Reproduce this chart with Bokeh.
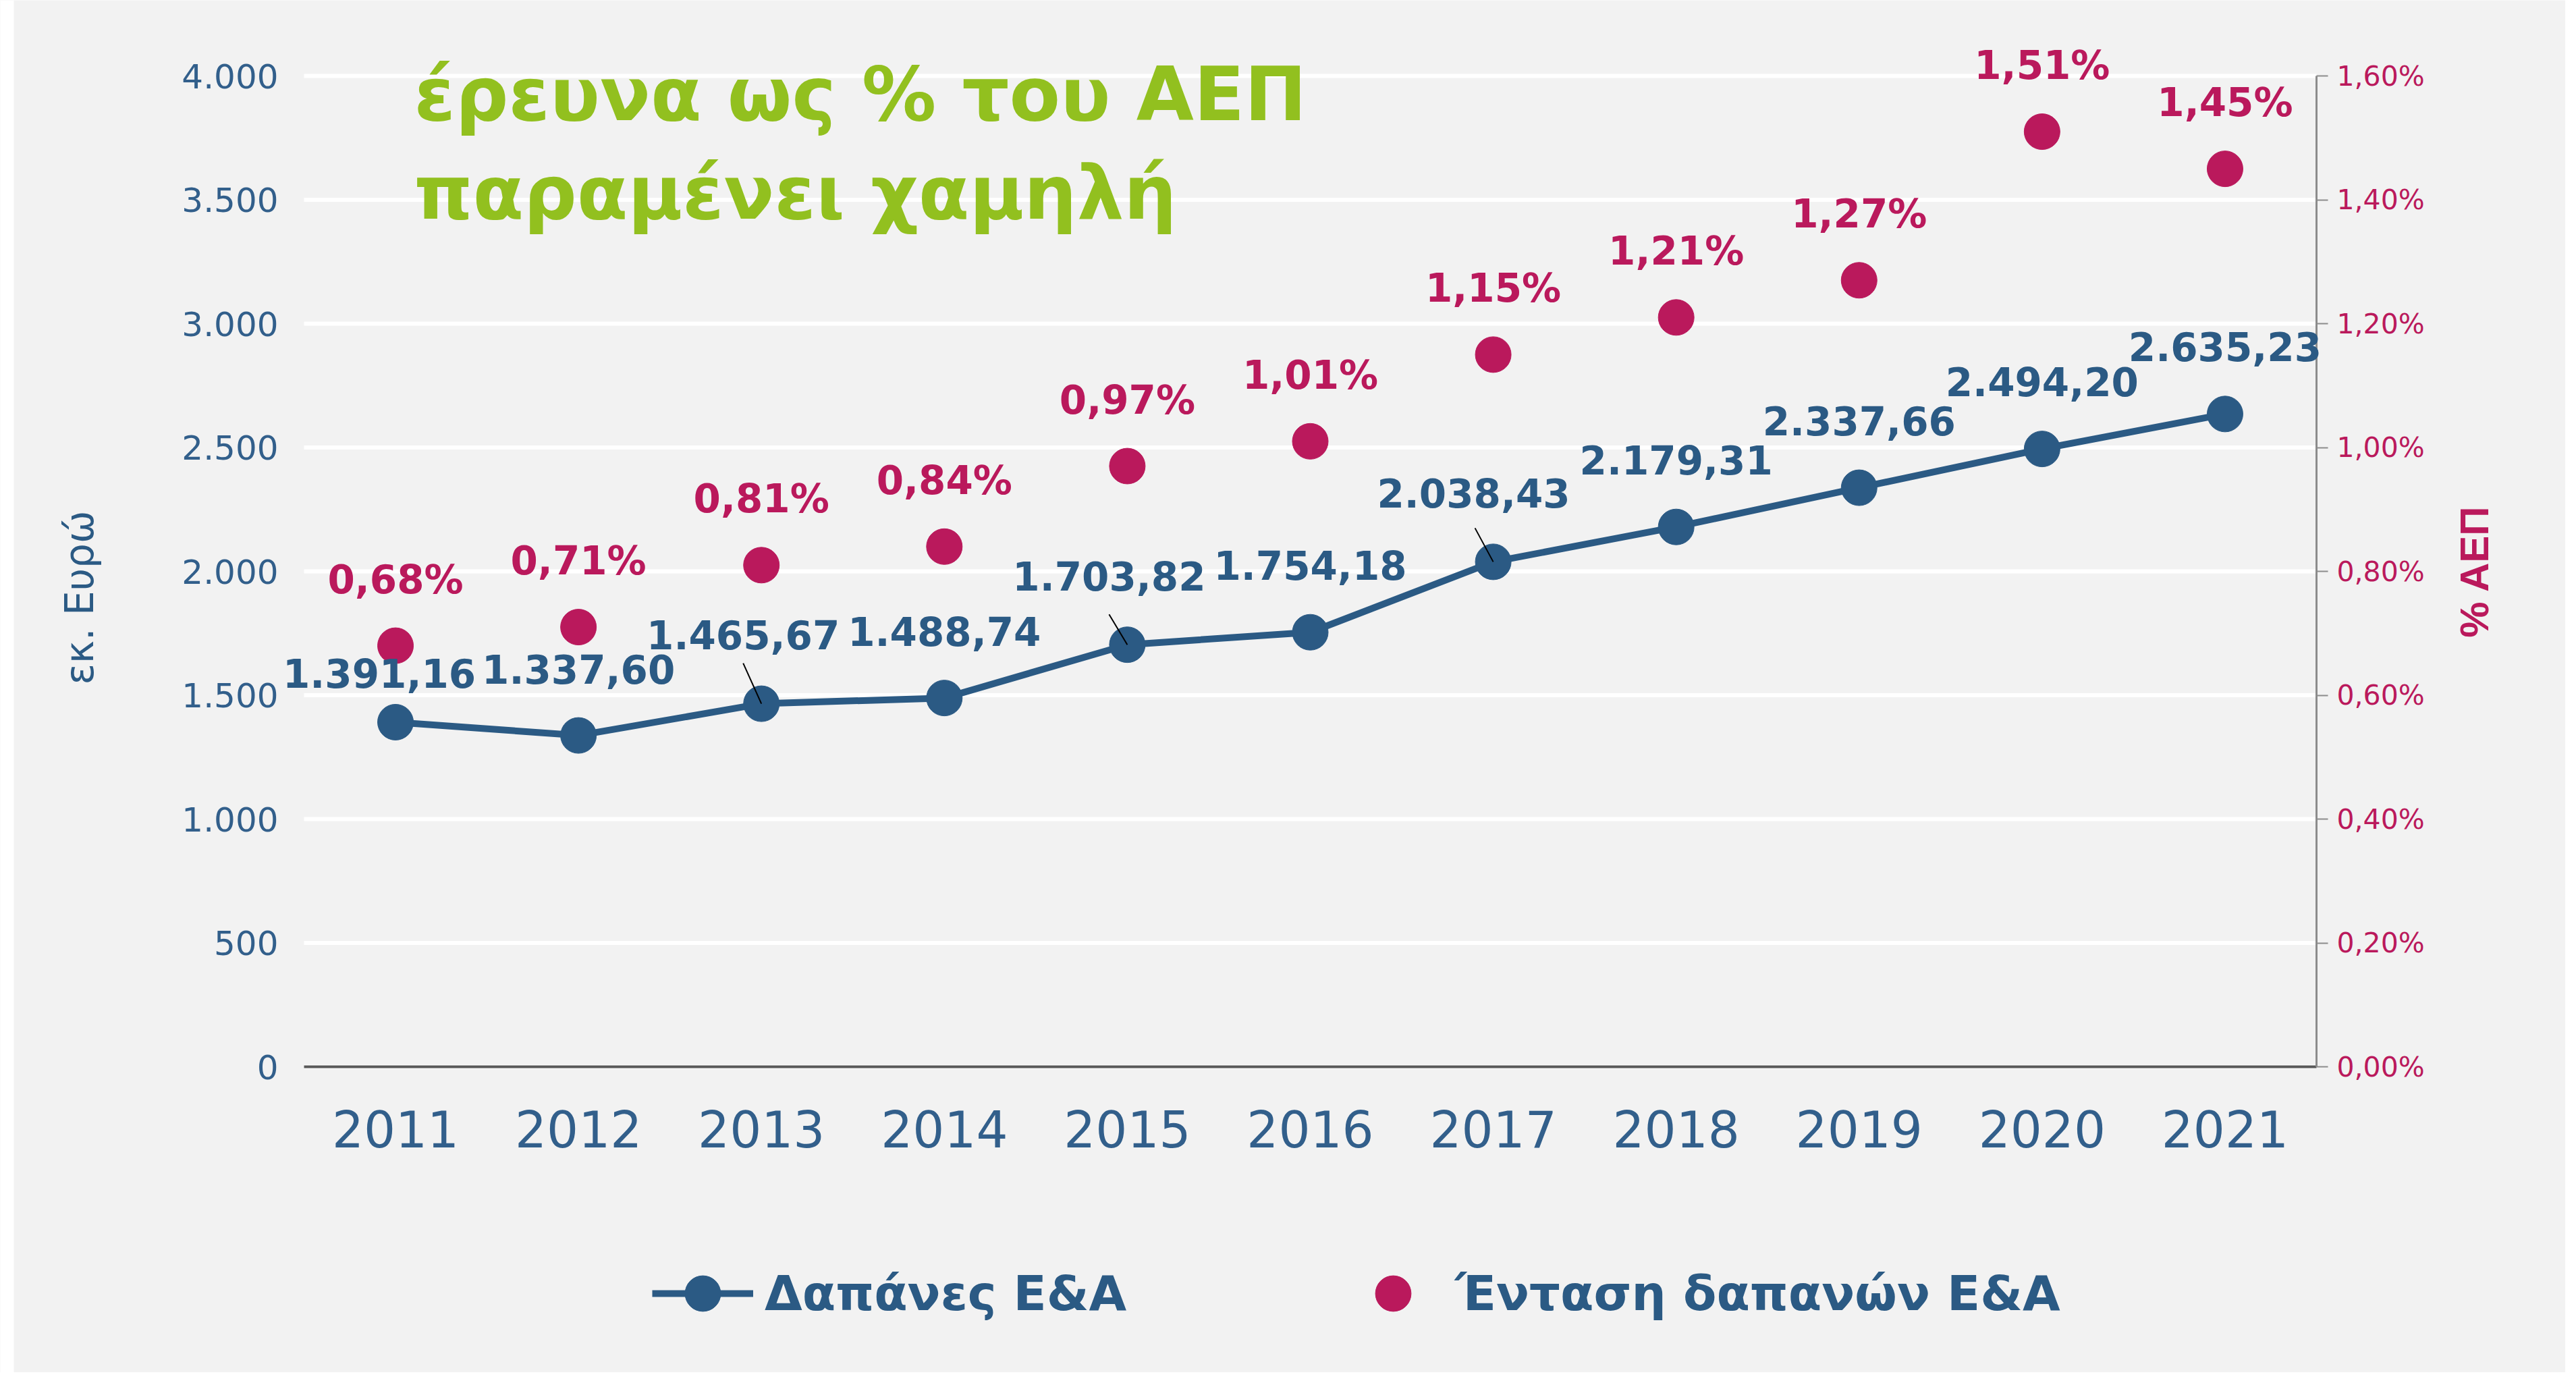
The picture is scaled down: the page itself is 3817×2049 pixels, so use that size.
import math
from bokeh.plotting import figure
from bokeh.models import (ColumnDataSource, LinearAxis, Range1d, FixedTicker,
                          LabelSet, Label, Legend, LegendItem, BoxAnnotation)
from bokeh.core.properties import value
from bokeh.embed import file_html
from bokeh.resources import INLINE

# ---------------- data ----------------
years = ["2011", "2012", "2013", "2014", "2015", "2016", "2017", "2018", "2019", "2020", "2021"]
spending = [1391.16, 1337.60, 1465.67, 1488.74, 1703.82, 1754.18, 2038.43, 2179.31, 2337.66, 2494.20, 2635.23]
intensity = [0.68, 0.71, 0.81, 0.84, 0.97, 1.01, 1.15, 1.21, 1.27, 1.51, 1.45]

left_ticks = [0, 500, 1000, 1500, 2000, 2500, 3000, 3500, 4000]
left_tick_labels = ["0", "500", "1.000", "1.500", "2.000", "2.500", "3.000", "3.500", "4.000"]
right_ticks = [0, 0.2, 0.4, 0.6, 0.8, 1.0, 1.2, 1.4, 1.6]
right_tick_labels = ["0,00%", "0,20%", "0,40%", "0,60%", "0,80%", "1,00%", "1,20%", "1,40%", "1,60%"]

series_names = ["Δαπάνες Ε&Α", "Ένταση δαπανών Ε&Α"]
left_axis_title = "εκ. Ευρώ"
right_axis_title = "% ΑΕΠ"
title_lines = ["έρευνα ως % του ΑΕΠ", "παραμένει χαμηλή"]


def greek_num(v, dec=2):
    s = f"{v:,.{dec}f}"
    return s.replace(",", "#").replace(".", ",").replace("#", ".")


spending_labels = [greek_num(v) for v in spending]
intensity_labels = [greek_num(v) + "%" for v in intensity]

# ---------------- style ----------------
BLUE = "#2B5A84"
TICK_BLUE = "#325F8B"
PINK = "#BA195C"
GREEN = "#92C01F"
BG = "#F2F2F2"

# label offsets (screen px): baseline above point, horizontal shift
blue_dx = [-24, 0, -27, 0, -27, 0, -29, 0, 0, 0, 0]
blue_dy = [51, 77, 81, 77, 80, 78, 80, 78, 78, 78, 78]
# leader lines (screen px length upward) for some labels; 0 = none
leader_up = [0, 0, 60, 0, 45, 0, 50, 0, 0, 0, 0]
leader_left = 27

W, H = 3801, 2033
PLOT_LEFT, PLOT_RIGHT = 450, 3432        # canvas px of category band edges
Y0_PX, YTOP_PX = 1580, 112               # canvas px of value 0 and of 4000
Y_MAX = 4000
n = len(years)
px_per_cat = (PLOT_RIGHT - PLOT_LEFT) / n
px_per_unit = (Y0_PX - YTOP_PX) / Y_MAX
x_start = -0.5 - PLOT_LEFT / px_per_cat
x_end = n - 0.5 + (W - PLOT_RIGHT) / px_per_cat
y_start = -(H - Y0_PX) / px_per_unit
y_end = Y_MAX + YTOP_PX / px_per_unit
pct_scale = 1.6 / Y_MAX

x = list(range(n))
xr = Range1d(x_start, x_end)
yr = Range1d(y_start, y_end)

p = figure(width=W, height=H, x_range=xr, y_range=yr,
           output_backend="svg", toolbar_location=None,
           min_border_left=0, min_border_right=0,
           min_border_top=0, min_border_bottom=0)
p.background_fill_color = BG
p.border_fill_color = BG
p.outline_line_color = None
p.title.visible = False

p.extra_y_ranges = {"pct": Range1d(y_start * pct_scale, y_end * pct_scale)}

# white page strip at left, like the slide crop
p.add_layout(BoxAnnotation(left=0, right=20, left_units="screen", right_units="screen",
                           fill_color="white", fill_alpha=1, line_color=None, level="underlay"))

# grid lines (limited to the plotting band)
p.xgrid.visible = False
p.ygrid.visible = False
p.segment(x0=[-0.5] * len(left_ticks), x1=[n - 0.5] * len(left_ticks),
          y0=left_ticks, y1=left_ticks, line_color="white", line_width=6)

# bottom axis (sits on value 0)
xa = p.xaxis[0]
xa.fixed_location = 0
xa.bounds = (-0.5, n - 0.5)
xa.ticker = FixedTicker(ticks=x)
xa.major_label_overrides = {i: y for i, y in zip(x, years)}
xa.axis_line_color = "#595959"
xa.axis_line_width = 4
xa.major_tick_line_color = None
xa.minor_tick_line_color = None
xa.major_label_standoff = 58
xa.major_label_text_font = "DejaVu Sans"
xa.major_label_text_font_size = "74px"
xa.major_label_text_color = TICK_BLUE

# left axis (at left edge of the band)
ya = p.yaxis[0]
ya.fixed_location = -0.5
ya.bounds = (0, Y_MAX)
ya.ticker = FixedTicker(ticks=left_ticks)
ya.major_label_overrides = {t: s for t, s in zip(left_ticks, left_tick_labels)}
ya.axis_line_color = None
ya.major_tick_line_color = None
ya.minor_tick_line_color = None
ya.major_label_standoff = 32
ya.major_label_text_font = "DejaVu Sans"
ya.major_label_text_font_size = "50px"
ya.major_label_text_color = TICK_BLUE

# right axis
ra = LinearAxis(y_range_name="pct", ticker=FixedTicker(ticks=right_ticks),
                bounds=(0, 1.6), fixed_location=n - 0.5)
ra.major_label_overrides = {t: s for t, s in zip(right_ticks, right_tick_labels)}
ra.axis_line_color = "#8C8C8C"
ra.axis_line_width = 3
ra.major_tick_line_color = "#8C8C8C"
ra.major_tick_line_width = 2
ra.major_tick_in = 0
ra.major_tick_out = 17
ra.minor_tick_line_color = None
ra.major_label_standoff = 13
ra.major_label_text_font = "DejaVu Sans"
ra.major_label_text_font_size = "41px"
ra.major_label_text_color = PINK
p.add_layout(ra, "right")

# axis titles
p.add_layout(Label(x=117, y=H - 885, x_units="screen", y_units="screen",
                   text=left_axis_title, angle=math.pi / 2,
                   text_align="center", text_baseline="middle",
                   text_font="DejaVu Sans", text_font_size="58px", text_color=BLUE))
p.add_layout(Label(x=3666, y=H - 846, x_units="screen", y_units="screen",
                   text=right_axis_title, angle=math.pi / 2,
                   text_align="center", text_baseline="middle",
                   text_font="Liberation Sans", text_font_style="bold",
                   text_font_size="60px", text_color=PINK))

# ---------------- glyphs ----------------
src = ColumnDataSource(dict(x=x, spend=spending, pct=intensity,
                            spend_lbl=spending_labels, pct_lbl=intensity_labels,
                            bdx=blue_dx, bdy=blue_dy))

line_r = p.line("x", "spend", source=src, line_color=BLUE, line_width=10)
blue_r = p.scatter("x", "spend", source=src, size=53, fill_color=BLUE, line_color=BLUE)
pink_r = p.scatter("x", "pct", source=src, y_range_name="pct", size=53,
                   fill_color=PINK, line_color=PINK)

# leader lines
lx0, ly0, lx1, ly1 = [], [], [], []
for i, (v, up) in enumerate(zip(spending, leader_up)):
    if up:
        lx0.append(x[i]); ly0.append(v)
        lx1.append(x[i] - leader_left / px_per_cat)
        ly1.append(v + up / px_per_unit)
p.segment(lx0, ly0, lx1, ly1, line_color="black", line_width=2)

blue_labels = LabelSet(x="x", y="spend", text="spend_lbl", source=src,
                       x_offset="bdx", y_offset="bdy",
                       text_align="center", text_baseline="alphabetic",
                       text_font=value("DejaVu Sans"), text_font_style="bold",
                       text_font_size="58px", text_color=BLUE)
pink_labels = LabelSet(x="x", y="pct", text="pct_lbl", source=src, y_range_name="pct",
                       y_offset=78, text_align="center", text_baseline="alphabetic",
                       text_font=value("DejaVu Sans"), text_font_style="bold",
                       text_font_size="58px", text_color=PINK)
p.add_layout(blue_labels)
p.add_layout(pink_labels)

# title (overlaid slide headline)
for txt, yb in zip(title_lines, [H - 139, H - 285]):
    p.add_layout(Label(x=613, y=yb, x_units="screen", y_units="screen", text=txt,
                       text_font="DejaVu Sans", text_font_style="bold",
                       text_font_size="110px", text_color=GREEN,
                       text_baseline="alphabetic"))

# legend
legend = Legend(items=[LegendItem(label=series_names[0], renderers=[line_r, blue_r]),
                       LegendItem(label=series_names[1], renderers=[pink_r])],
                location=(966, H - 1916 - 66), orientation="horizontal",
                background_fill_alpha=0, border_line_color=None,
                padding=0, margin=0, spacing=320,
                glyph_width=150, glyph_height=132, label_height=60,
                label_standoff=17,
                label_text_font="DejaVu Sans", label_text_font_style="bold",
                label_text_font_size="72px", label_text_color=BLUE)
p.add_layout(legend)

open("out.html", "w").write(file_html(p, INLINE))
